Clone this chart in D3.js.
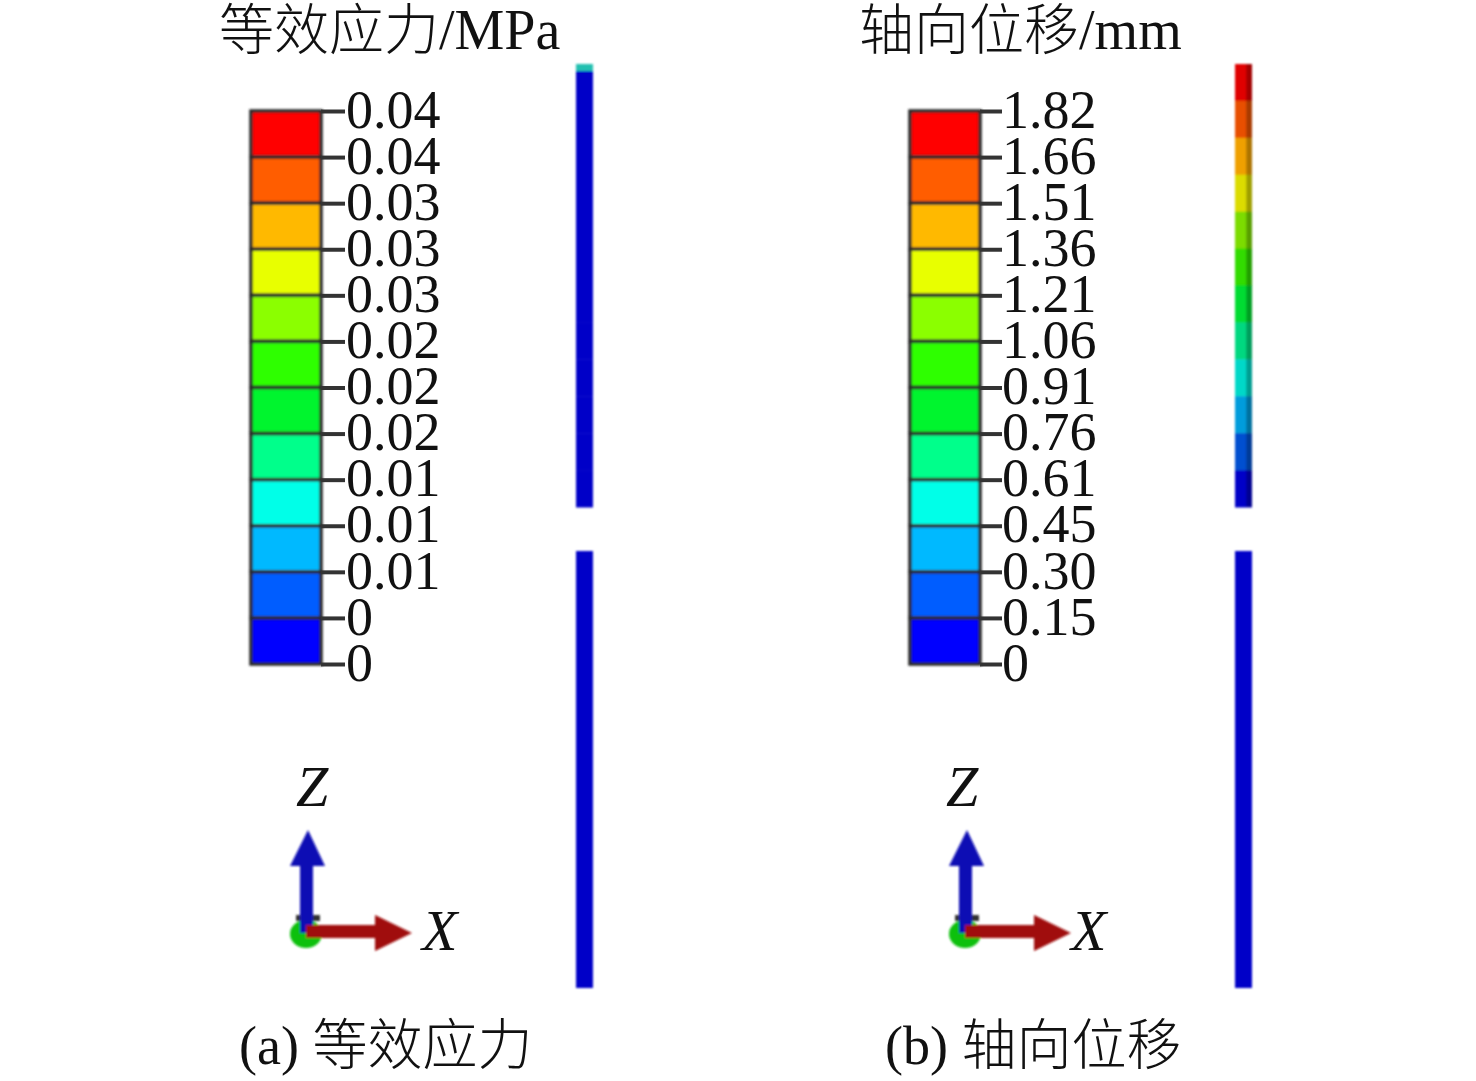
<!DOCTYPE html>
<html>
<head>
<meta charset="utf-8">
<script src="https://cdn.jsdelivr.net/npm/d3@7"></script>
<style>
  html, body { margin: 0; background: #fff; }
  svg { display: block; }
  text { font-family: "Liberation Serif", "Noto Sans CJK SC", serif; fill: #111; }
  .cjk { font-family: "Noto Sans CJK SC"; font-weight: 300; font-size: 55px; }
  .axis path { display: none; }
  .axis line { stroke: #333; stroke-width: 4; }
  .axis text { font-size: 54px; }
</style>
</head>
<body>
<div id="chart"></div>
<script>
var stressTicks = ["0.04","0.04","0.03","0.03","0.03","0.02","0.02","0.02","0.01","0.01","0.01","0","0"];
var dispTicks = ["1.82","1.66","1.51","1.36","1.21","1.06","0.91","0.76","0.61","0.45","0.30","0.15","0"];
var legendColors = ["#ff0000","#ff5d00","#ffb900","#e8ff00","#8bff00","#2eff00","#00f52e","#00ff8b","#00ffe8","#00b9ff","#005dff","#0000ff"];
var stressTop = ["#0000c8","#0000c8","#0000c8","#0000c8","#0000c8","#0000c8","#0000c8","#0000c8","#0000c8","#0000c8","#0000c8","#0000c8"];
var dispTop = ["#e00000","#e85000","#efa000","#dcdc00","#7cdc00","#30dc00","#00dc30","#00d880","#00d8c8","#009cdc","#0050d0","#0000c8"];

var width = 1476, height = 1081;
var svg = d3.select("#chart").append("svg").attr("width", width).attr("height", height);

var defs = svg.append("defs");
var soft = defs.append("filter").attr("id", "soft");
soft.append("feGaussianBlur").attr("stdDeviation", 0.8);
var shade = defs.append("linearGradient").attr("id", "shade");
shade.append("stop").attr("offset", "0.62").attr("stop-color", "#000").attr("stop-opacity", 0);
shade.append("stop").attr("offset", "0.7").attr("stop-color", "#000").attr("stop-opacity", 0.28);

function panel(x0, opt, ticks, topColors) {
  var g = svg.append("g").attr("transform", `translate(${x0},0)`);

  // title: chinese part then unit
  var t = g.append("text").attr("x", opt.titleX).attr("y", 49).style("font-size", "56px");
  t.append("tspan").attr("class", "cjk").text(opt.name);
  t.append("tspan").text(opt.unit);

  // legend
  var idx = d3.range(ticks.length);
  var y = d3.scalePoint().domain(idx).range([111, 664]);
  var legendX = 251, legendW = 70;
  var cells = g.append("g").attr("filter", "url(#soft)");
  cells.selectAll("rect").data(legendColors).enter().append("rect")
    .attr("x", legendX)
    .attr("y", (d, i) => y(i))
    .attr("width", legendW)
    .attr("height", y.step())
    .attr("fill", d => d)
    .attr("stroke", "#2a2a2a")
    .attr("stroke-width", 3.5);

  var axis = d3.axisRight(y).tickSize(opt.tickLen).tickPadding(opt.tickPad).tickFormat(i => ticks[i]);
  var ax = g.append("g").attr("class", "axis")
    .attr("transform", `translate(${legendX + legendW},0)`)
    .call(axis);
  ax.selectAll("text").attr("dy", "0.3em");

  // specimen bar, upper and lower piece
  var barX = 576, barW = 17;
  var upper = d3.scaleBand().domain(d3.range(topColors.length)).range([64, 507]);
  var bar = g.append("g").attr("filter", "url(#soft)");
  bar.selectAll("rect.up").data(topColors).enter().append("rect")
    .attr("class", "up")
    .attr("x", barX)
    .attr("y", (d, i) => upper(i))
    .attr("width", barW)
    .attr("height", upper.bandwidth() + 0.5)
    .attr("fill", d => d);
  bar.append("rect").attr("x", barX).attr("y", 551).attr("width", barW).attr("height", 437).attr("fill", "#0000c8");
  if (opt.cap) {
    bar.append("rect").attr("x", barX).attr("y", 64).attr("width", barW).attr("height", 7).attr("fill", opt.cap);
  } else {
    bar.append("rect").attr("x", barX).attr("y", 64).attr("width", barW).attr("height", 443).attr("fill", "url(#shade)");
  }

  // triad
  var tri = g.append("g").attr("filter", "url(#soft)");
  tri.append("ellipse").attr("cx", 306).attr("cy", 934).attr("rx", 16).attr("ry", 14).attr("fill", "#10c010");
  tri.append("rect").attr("x", 296).attr("y", 915).attr("width", 24).attr("height", 6).attr("fill", "#333");
  tri.append("path").attr("d", "M300,933V866H290L308,830L325,866H313V933Z").attr("fill", "#0a0ab4");
  tri.append("path").attr("d", "M306,925H375V915L412,933L375,951V938H306Z").attr("fill", "#a01010");

  var lab = g.append("g").style("font-style", "italic").style("font-size", "58px");
  lab.append("text").attr("x", opt.zx).attr("y", 806).text("Z");
  lab.append("text").attr("x", opt.xx).attr("y", 950).text("X");

  // caption
  var c = g.append("text").attr("x", opt.capX).attr("y", 1064).style("font-size", "54px");
  c.append("tspan").text(opt.tag + " ");
  c.append("tspan").attr("class", "cjk").text(opt.name);
}

panel(0,
  {titleX: 219, name: "等效应力", unit: "/MPa", cap: "#20c0b0", tickLen: 24, tickPad: 1, zx: 296, xx: 422, capX: 239, tag: "(a)"},
  stressTicks, stressTop);

panel(659,
  {titleX: 200, name: "轴向位移", unit: "/mm", tickLen: 22, tickPad: 0, zx: 287, xx: 412, capX: 226, tag: "(b)"},
  dispTicks, dispTop);
</script>
</body>
</html>
